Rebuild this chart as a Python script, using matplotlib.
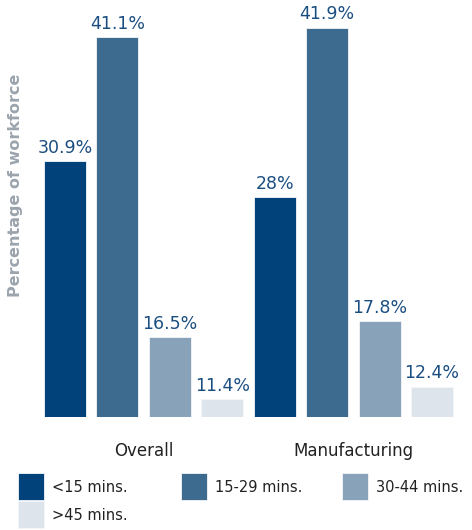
import matplotlib
matplotlib.use("Agg")
import matplotlib.pyplot as plt
from matplotlib.patches import Rectangle

categories = ["Overall", "Manufacturing"]
series = ["<15 mins.", "15-29 mins.", "30-44 mins.", ">45 mins."]
values = {
    "<15 mins.": [30.9, 28.0],
    "15-29 mins.": [41.1, 41.9],
    "30-44 mins.": [16.5, 17.8],
    ">45 mins.": [11.4, 12.4],
}
value_labels = {
    "<15 mins.": ["30.9%", "28%"],
    "15-29 mins.": ["41.1%", "41.9%"],
    "30-44 mins.": ["16.5%", "17.8%"],
    ">45 mins.": ["11.4%", "12.4%"],
}
colors = ["#02427a", "#3d6a8f", "#88a2b9", "#dde4eb"]
label_color = "#1b4e80"

W, H = 472, 530
fig = plt.figure(figsize=(W / 100, H / 100), dpi=100)
ax = fig.add_axes([0, 113 / H, 1, 417 / H])

n = len(series)
for s, name in enumerate(series):
    xs = [g * n + s for g in range(len(categories))]
    bars = ax.bar(xs, values[name], width=0.8, color=colors[s],
                  edgecolor="#f4f6f8", linewidth=0.6, bottom=0)
    for b, lab in zip(bars, value_labels[name]):
        ax.annotate(lab, (b.get_x() + b.get_width() / 2, b.get_height()),
                    xytext=(0, 3), textcoords="offset points",
                    ha="center", va="bottom", fontsize=12.5, color=label_color)

ax.set_xlim(-1.24, 7.762)
ax.set_ylim(9.9, 9.9 + 417 / 12.17)
ax.set_xticks([g * n + (n - 1) / 2 for g in range(len(categories))])
ax.set_xticklabels(categories, fontsize=12, color="#222222")
ax.tick_params(axis="x", length=0, pad=18)
ax.set_yticks([])
for sp in ax.spines.values():
    sp.set_visible(False)
ax.patch.set_alpha(0)

fig.text(16 / W, 1 - 185 / H, "Percentage of workforce", rotation=90,
         ha="center", va="center", fontsize=11.5, fontweight="bold",
         color="#9ba4ad")

# legend
positions = [(18, 473), (181, 473), (342, 473), (18, 501)]
for (px, py), name, c in zip(positions, series, colors):
    fig.add_artist(Rectangle((px / W, 1 - (py + 27) / H), 26 / W, 27 / H,
                             transform=fig.transFigure, facecolor=c,
                             edgecolor="#f4f6f8", linewidth=0.6))
    fig.text((px + 34) / W, 1 - (py + 14) / H, name, ha="left", va="center",
             fontsize=10.5, color="#222222")

fig.savefig("out.png", dpi=100)
